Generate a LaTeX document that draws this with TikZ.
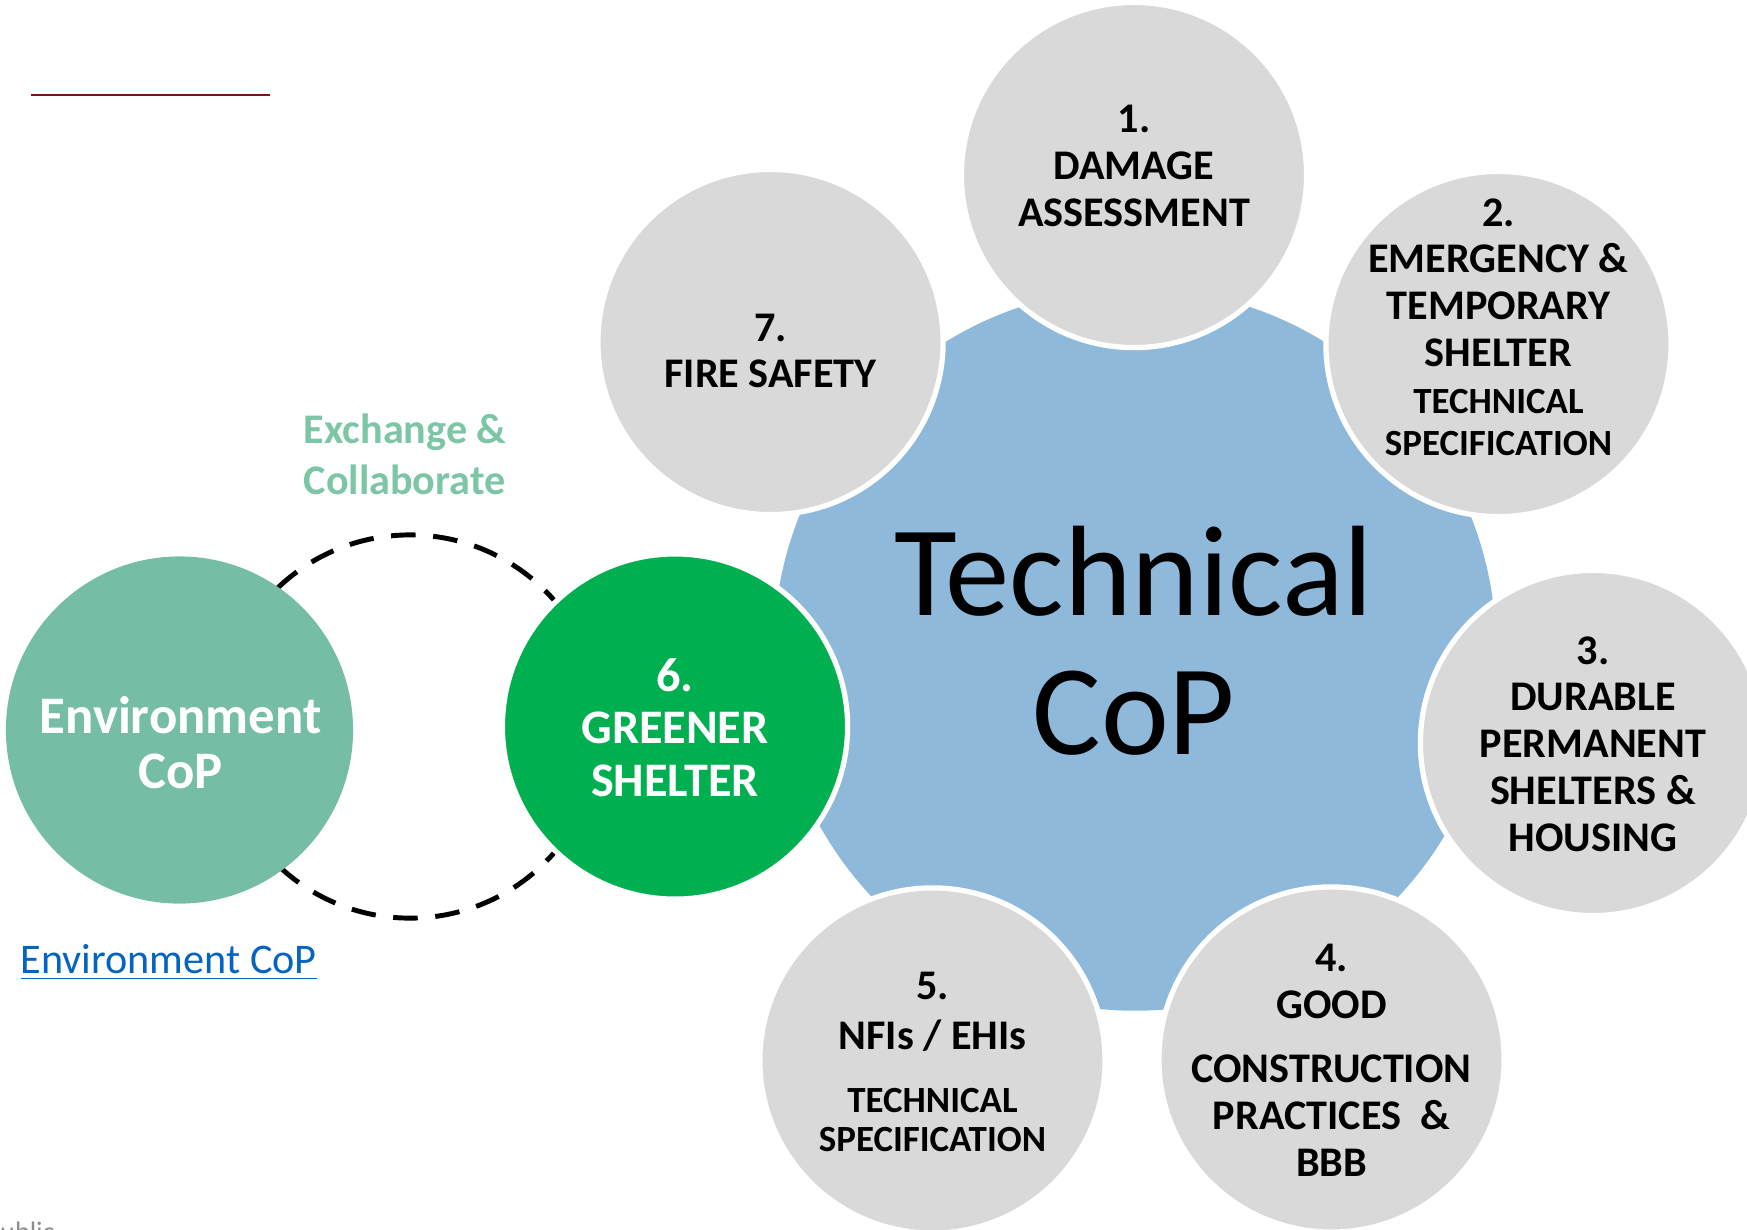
\documentclass[tikz,border=0pt]{standalone}
\usepackage{fontspec}
\setmainfont{Carlito}
\definecolor{techblue}{HTML}{8FB9DB}
\definecolor{topicgray}{HTML}{D9D9D9}
\definecolor{shelgreen}{HTML}{00B050}
\definecolor{envteal}{HTML}{76BDA6}
\definecolor{exchteal}{HTML}{7CC6A6}
\definecolor{linkblue}{HTML}{0563C1}
\definecolor{rulered}{HTML}{7B1420}

\begin{document}
\begin{tikzpicture}[x=0.01cm, y=-0.01cm,
  topic/.style={circle, fill=topicgray, draw=white, line width=1.5pt, minimum size=3.45cm, inner sep=0pt},
  topictext/.style={align=center, font=\bfseries\fontsize{12}{13.3}\selectfont}]
\useasboundingbox (0,0) rectangle (1747,1229);
\draw [rulered, line width=0.75pt] (31,95) -- (270,95);
\node [circle, draw, line width=1.4pt, dash pattern=on 7pt off 5pt, minimum size=3.83cm] (ring) at (410,726.5) {};
\node [circle, fill=techblue, minimum size=7.22cm] (tech) at (1135,649.5) {};
\node [align=center, font=\fontsize{36.6}{39.5}\selectfont] (techtext) at (1134,641) {Technical\\CoP};

\node [topic] (c1) at (1134,175) {};
\node [topictext] (t1) at (1134,166) {1.\\DAMAGE\\ASSESSMENT};
\node [topic] (c2) at (1498.5,344) {};
\node [topictext] (t2) at (1498.5,327) {2.\\EMERGENCY \&\\TEMPORARY\\SHELTER\\{\fontsize{10.5}{12}\selectfont TECHNICAL}\\[-1.3pt]{\fontsize{10.5}{12}\selectfont SPECIFICATION}};
\node [topic] (c3) at (1593,743) {};
\node [topictext] (t3) at (1593,744) {3.\\DURABLE\\PERMANENT\\SHELTERS \&\\HOUSING};
\node [topic] (c4) at (1331.5,1059.5) {};
\node [topictext] (t4) at (1331.5,1060) {4.\\GOOD\\[5pt]CONSTRUCTION\\PRACTICES\ \ \&\\BBB};
\node [topic] (c5) at (932.5,1060.5) {};
\node [topictext] (t5) at (932.5,1062) {5.\\[1pt]NFIs / EHIs\\[4.5pt]{\fontsize{10.5}{12}\selectfont TECHNICAL}\\[-2pt]{\fontsize{10.5}{12}\selectfont SPECIFICATION}};
\node [topic] (c7) at (770.5,342) {};
\node [topictext] (t7) at (770.5,351) {7.\\FIRE SAFETY};

\node [topic, fill=shelgreen] (c6) at (675,726.5) {};
\node [topictext, text=white, font=\bfseries\fontsize{13.7}{15}\selectfont] (t6) at (675,727.5) {6.\\GREENER\\SHELTER};
\node [circle, fill=envteal, minimum size=3.47cm] (env) at (179.5,730) {};
\node [align=center, text=white, font=\bfseries\fontsize{15}{15.6}\selectfont] (envtext) at (180.5,742.5) {Environment\\CoP};

\node [anchor=base west, align=left, text=exchteal, font=\bfseries\fontsize{12}{14.5}\selectfont, inner sep=0pt] (exch) at (303,494.7) {Exchange \&\\Collaborate};
\node [anchor=base west, text=linkblue, font=\fontsize{12}{14}\selectfont, inner sep=0pt] (link) at (20,973) {\underline{Environment CoP}};
\node [anchor=base west, text=gray!90, font=\fontsize{8}{9}\selectfont, inner sep=0pt] (pub) at (-15,1241) {Public};
\end{tikzpicture}
\end{document}
